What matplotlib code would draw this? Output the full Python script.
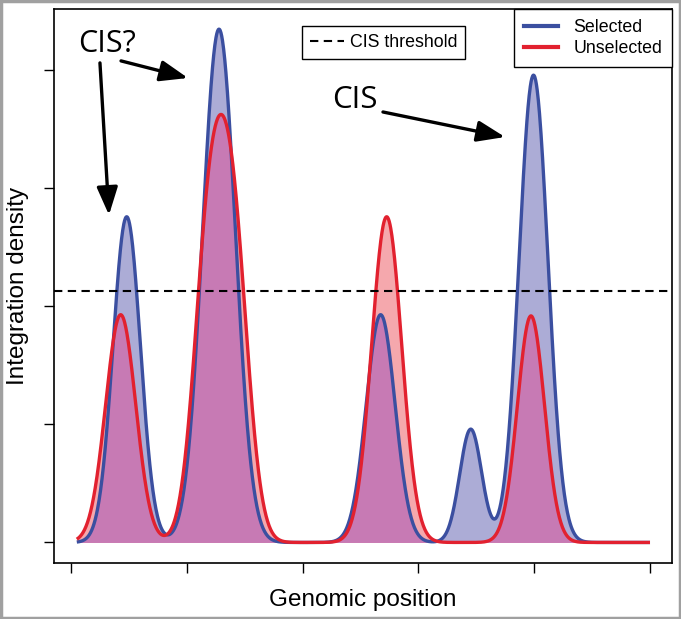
import numpy as np
import matplotlib
matplotlib.use("Agg")
from matplotlib import pyplot as plt
from matplotlib.lines import Line2D
from matplotlib.patches import Rectangle

# peaks: centre, height, width (x in tick units)
sel_centre = [0.481, 1.278, 2.674, 3.452, 3.994]
sel_height = [2.76, 4.35, 1.93, 0.96, 3.96]
sel_width = [0.118, 0.142, 0.125, 0.095, 0.125]

unsel_centre = [0.429, 1.192, 1.399, 2.726, 3.972]
unsel_height = [1.93, 2.49, 2.49, 2.76, 1.92]
unsel_width = [0.130, 0.130, 0.130, 0.130, 0.117]

threshold = 2.13
x_start, x_end = 0.05, 5.0
xticks = [0, 1, 2, 3, 4, 5]
yticks = [0, 1, 2, 3, 4]

BLUE = "#3b4fa0"
RED = "#e2212f"


def density(x, centres, heights, widths):
    y = np.zeros_like(x)
    for c, h, w in zip(centres, heights, widths):
        y += h * np.exp(-0.5 * ((x - c) / w) ** 2)
    return y


x = np.linspace(x_start, x_end, 1500)
sel = density(x, sel_centre, sel_height, sel_width)
unsel = density(x, unsel_centre, unsel_height, unsel_width)

fig = plt.figure(figsize=(6.81, 6.19), dpi=100)
ax = fig.add_axes([0.0793, 0.0905, 0.9075, 0.895])

ax.fill_between(x, 0, sel, color="#acacd6", lw=0)
ax.fill_between(x, 0, unsel, color="#f5a8ad", lw=0)
ax.fill_between(x, 0, np.minimum(sel, unsel), color="#c77ab4", lw=0)
ax.plot(x, sel, color=BLUE, lw=2.4, solid_capstyle="butt")
ax.plot(x, unsel, color=RED, lw=2.4, solid_capstyle="butt")
ax.axhline(threshold, color="black", lw=1.5, ls=(0, (4, 2.6)))

ax.set_xlim(-0.1468, 5.19)
ax.set_ylim(-0.174, 4.521)
ax.set_xticks(xticks)
ax.set_yticks(yticks)
ax.set_xticklabels([])
ax.set_yticklabels([])
ax.tick_params(length=7, width=1, direction="out")
for s in ax.spines.values():
    s.set_linewidth(1.2)

lab_font = dict(family="Liberation Sans", fontsize=17.5)
ax.set_xlabel("Genomic position", va="center", **lab_font)
ax.set_ylabel("Integration density", va="center", **lab_font)
ax.xaxis.set_label_coords(0.5, -0.067)
ax.yaxis.set_label_coords(-0.058, 0.5)

# annotations
arrow = dict(arrowstyle="-|>,head_length=0.85,head_width=0.32", lw=2.4,
             color="black", mutation_scale=20, shrinkA=0, shrinkB=0)
ax.text(0.311, 4.225, "CIS?", family="Open Sans", fontsize=22,
        ha="center", va="center")
ax.annotate("", xy=(0.328, 2.775), xytext=(0.250, 4.064), arrowprops=arrow)
ax.annotate("", xy=(1.010, 3.936), xytext=(0.432, 4.081), arrowprops=arrow)
ax.text(2.452, 3.75, "CIS", family="Open Sans", fontsize=22.5,
        ha="center", va="center")
ax.annotate("", xy=(3.748, 3.436), xytext=(2.694, 3.648), arrowprops=arrow)

leg_font = {"family": "Liberation Sans", "size": 12.8}
h1 = [Line2D([], [], color="black", lw=1.5, ls=(0, (4, 2.6)))]
leg1 = ax.legend(h1, ["CIS threshold"], loc="upper left",
                 bbox_to_anchor=(0.401, 0.969), borderaxespad=0,
                 prop=leg_font, fancybox=False, edgecolor="black",
                 framealpha=1, handlelength=1.9, handletextpad=0.35,
                 borderpad=0.45)
leg1.get_frame().set_linewidth(1.0)
ax.add_artist(leg1)

h2 = [Line2D([], [], color=BLUE, lw=3), Line2D([], [], color=RED, lw=3)]
leg2 = ax.legend(h2, ["Selected", "Unselected"], loc="upper right",
                 bbox_to_anchor=(1, 1), borderaxespad=0, prop=leg_font,
                 fancybox=False, edgecolor="black", framealpha=1,
                 handlelength=1.95, handletextpad=0.85, labelspacing=0.25,
                 borderpad=0.55)
leg2.get_frame().set_linewidth(1.0)

fig.patches.append(Rectangle((0.002, 0.002), 0.996, 0.996,
                             transform=fig.transFigure, fill=False,
                             edgecolor="#a0a0a0", lw=2.5))

fig.savefig("out.png", dpi=100)
